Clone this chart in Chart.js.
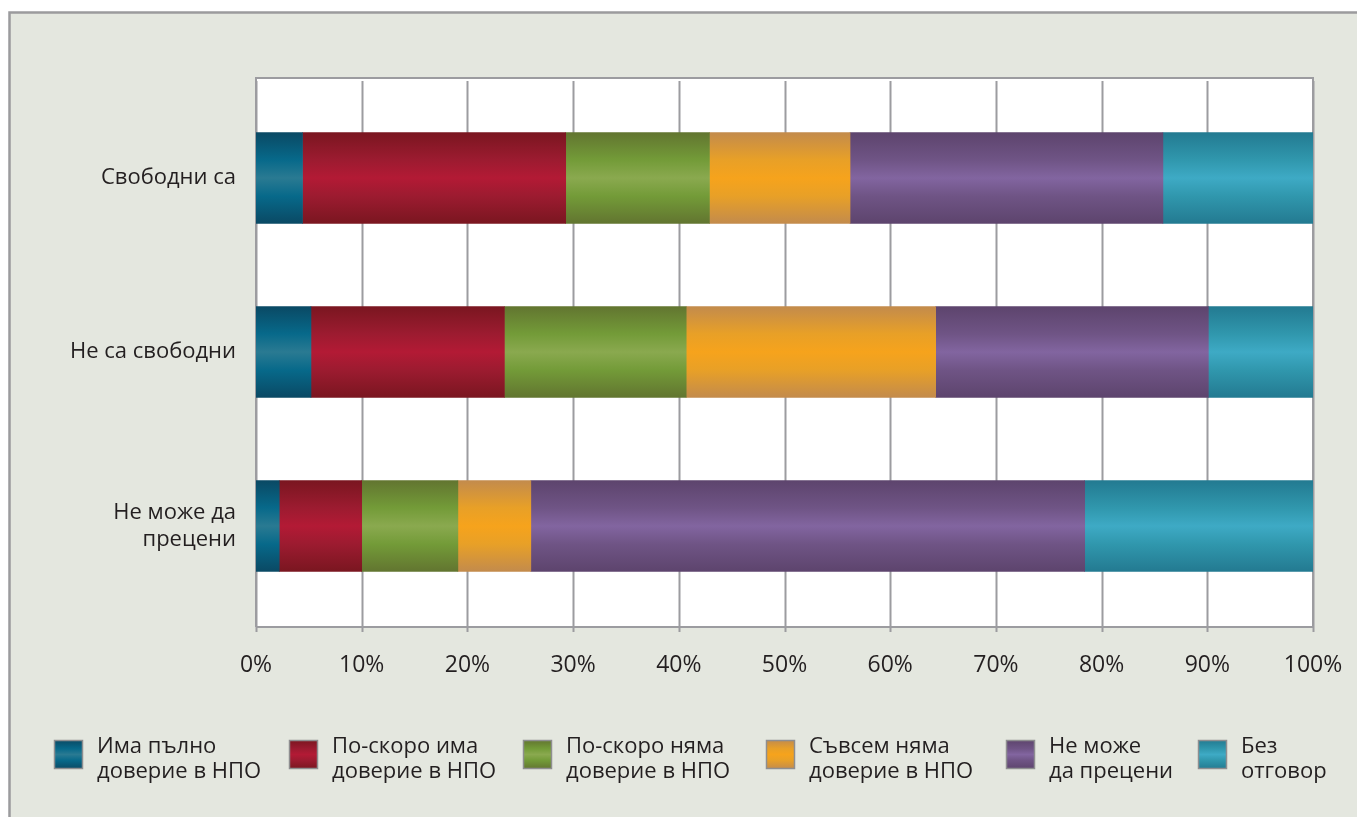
<!DOCTYPE html>
<html lang="bg">
<head>
<meta charset="utf-8">
<title>Доверие в НПО</title>
<script src="https://cdn.jsdelivr.net/npm/chart.js@4.4.1/dist/chart.umd.min.js"></script>
<style>
  html, body { margin: 0; padding: 0; background: #ffffff; }
  #wrap { width: 1357px; height: 817px; position: relative; }
</style>
</head>
<body>
<div id="wrap"><canvas id="doverieChart" width="1357" height="817"></canvas></div>
<script>
// Категории (редове) и стойности в проценти
const kategorii = ['Свободни са', 'Не са свободни', ['Не може да', 'прецени']];

const imaPalno      = [4.4, 5.2, 2.2];
const poSkoroIma    = [24.9, 18.3, 7.8];
const poSkoroNyama  = [13.6, 17.2, 9.1];
const savsemNyama   = [13.3, 23.6, 6.9];
const neMozhe       = [29.6, 25.8, 52.4];
const bezOtgovor    = [14.2, 9.9, 21.6];

const xTickLabels = ['0%', '10%', '20%', '30%', '40%', '50%', '60%', '70%', '80%', '90%', '100%'];

const legendLabels = [
  ['Има пълно', 'доверие в НПО'],
  ['По-скоро има', 'доверие в НПО'],
  ['По-скоро няма', 'доверие в НПО'],
  ['Съвсем няма', 'доверие в НПО'],
  ['Не може', 'да прецени'],
  ['Без', 'отговор']
];

// цветове: [ръб, средно, център] за вертикалния градиент
const tsvetove = [
  ['#0a4964', '#07698a', '#2a7a92'],
  ['#7a1620', '#9c1b30', '#b31a35'],
  ['#627530', '#739b38', '#8aa94f'],
  ['#c38b4c', '#e8a027', '#f6a31c'],
  ['#5d446d', '#6f5485', '#8265a0'],
  ['#237a91', '#3097ad', '#3eaac5']
];

const BAR_H = 91;
const FONT = "'Open Sans', sans-serif";
const TEXT_COLOR = '#231f20';

Chart.defaults.font.family = FONT;
Chart.defaults.color = TEXT_COLOR;

function makeGrad(ctx, top, bottom, c) {
  const g = ctx.createLinearGradient(0, top, 0, bottom);
  g.addColorStop(0, c[0]);
  g.addColorStop(0.3, c[1]);
  g.addColorStop(0.5, c[2]);
  g.addColorStop(0.7, c[1]);
  g.addColorStop(1, c[0]);
  return g;
}

// градиент за всеки отделен стълб
function barFill(idx) {
  return (context) => {
    const chart = context.chart;
    if (!chart.chartArea || context.dataIndex === undefined) return tsvetove[idx][1];
    const yc = chart.scales.y.getPixelForValue(context.dataIndex);
    return makeGrad(chart.ctx, yc - BAR_H / 2, yc + BAR_H / 2, tsvetove[idx]);
  };
}

const seriesData = [imaPalno, poSkoroIma, poSkoroNyama, savsemNyama, neMozhe, bezOtgovor];

const datasets = seriesData.map((d, i) => ({
  label: legendLabels[i].join(' '),
  data: d,
  backgroundColor: barFill(i),
  borderWidth: 0,
  barThickness: BAR_H
}));

// фон на рамката, бялото поле и мрежата
const framePlugin = {
  id: 'frame',
  beforeDraw(chart) {
    const ctx = chart.ctx;
    ctx.save();
    ctx.fillStyle = '#ffffff';
    ctx.fillRect(0, 0, chart.width, chart.height);
    ctx.fillStyle = '#e4e7df';
    ctx.fillRect(9, 12, chart.width, chart.height);
    ctx.strokeStyle = '#9b9b9d';
    ctx.lineWidth = 2.5;
    ctx.strokeRect(9.5, 12.5, chart.width + 10, chart.height + 10);
    ctx.restore();
  },
  beforeDatasetsDraw(chart) {
    const ctx = chart.ctx;
    const a = chart.chartArea;
    const x = chart.scales.x;
    const top = a.top - 13, bottom = a.bottom + 14;
    ctx.save();
    ctx.fillStyle = '#ffffff';
    ctx.fillRect(a.left, top, a.right - a.left, bottom - top);
    ctx.strokeStyle = '#9c9ca0';
    ctx.lineWidth = 2;
    x.ticks.forEach((t) => {
      const px = Math.round(x.getPixelForValue(t.value)) + 0.5;
      ctx.beginPath();
      ctx.moveTo(px, top + 3);
      ctx.lineTo(px, bottom + 5);
      ctx.stroke();
    });
    // рамка на полето
    ctx.beginPath();
    ctx.moveTo(a.left, bottom);
    ctx.lineTo(a.left, top);
    ctx.lineTo(a.right, top);
    ctx.lineTo(a.right, bottom);
    ctx.lineTo(a.left, bottom);
    ctx.stroke();
    ctx.restore();
  },
  afterDraw(chart) {
    // легенда под графиката
    const ctx = chart.ctx;
    const boxX = [54, 289, 523, 766, 1006, 1198];
    ctx.save();
    ctx.font = '22px ' + FONT;
    ctx.textBaseline = 'alphabetic';
    chart.data.datasets.forEach((ds, i) => {
      const bx = boxX[i], by = 740, s = 29;
      ctx.fillStyle = makeGrad(ctx, by, by + s, tsvetove[i]);
      ctx.fillRect(bx, by, s, s);
      ctx.strokeStyle = '#8e8e90';
      ctx.lineWidth = 1.5;
      ctx.strokeRect(bx + 0.5, by + 0.5, s - 1, s - 1);
      ctx.fillStyle = TEXT_COLOR;
      legendLabels[i].forEach((line, k) => {
        ctx.fillText(line, bx + 43, 753 + k * 25);
      });
    });
    ctx.restore();
  }
};

new Chart(document.getElementById('doverieChart'), {
  type: 'bar',
  data: { labels: kategorii, datasets: datasets },
  plugins: [framePlugin],
  options: {
    indexAxis: 'y',
    responsive: false,
    animation: false,
    layout: { padding: { top: 91, right: 44, bottom: 124, left: 10 } },
    plugins: {
      legend: { display: false },
      tooltip: { enabled: false }
    },
    scales: {
      x: {
        stacked: true,
        min: 0,
        max: 100,
        border: { display: false },
        grid: { display: false, drawTicks: false },
        ticks: {
          stepSize: 10,
          padding: 2,
          // висок ред, за да слязат надписите под полето
          font: { size: 23, lineHeight: '100px' },
          color: TEXT_COLOR,
          maxRotation: 0,
          callback: (v, i) => xTickLabels[i]
        },
        afterFit: (s) => { s.height = 80; }
      },
      y: {
        stacked: true,
        border: { display: false },
        grid: { display: false, drawTicks: false },
        ticks: {
          padding: 20,
          font: { size: 22, lineHeight: 1.25 },
          color: TEXT_COLOR
        },
        afterFit: (s) => { s.width = 246; }
      }
    }
  }
});
</script>
</body>
</html>
